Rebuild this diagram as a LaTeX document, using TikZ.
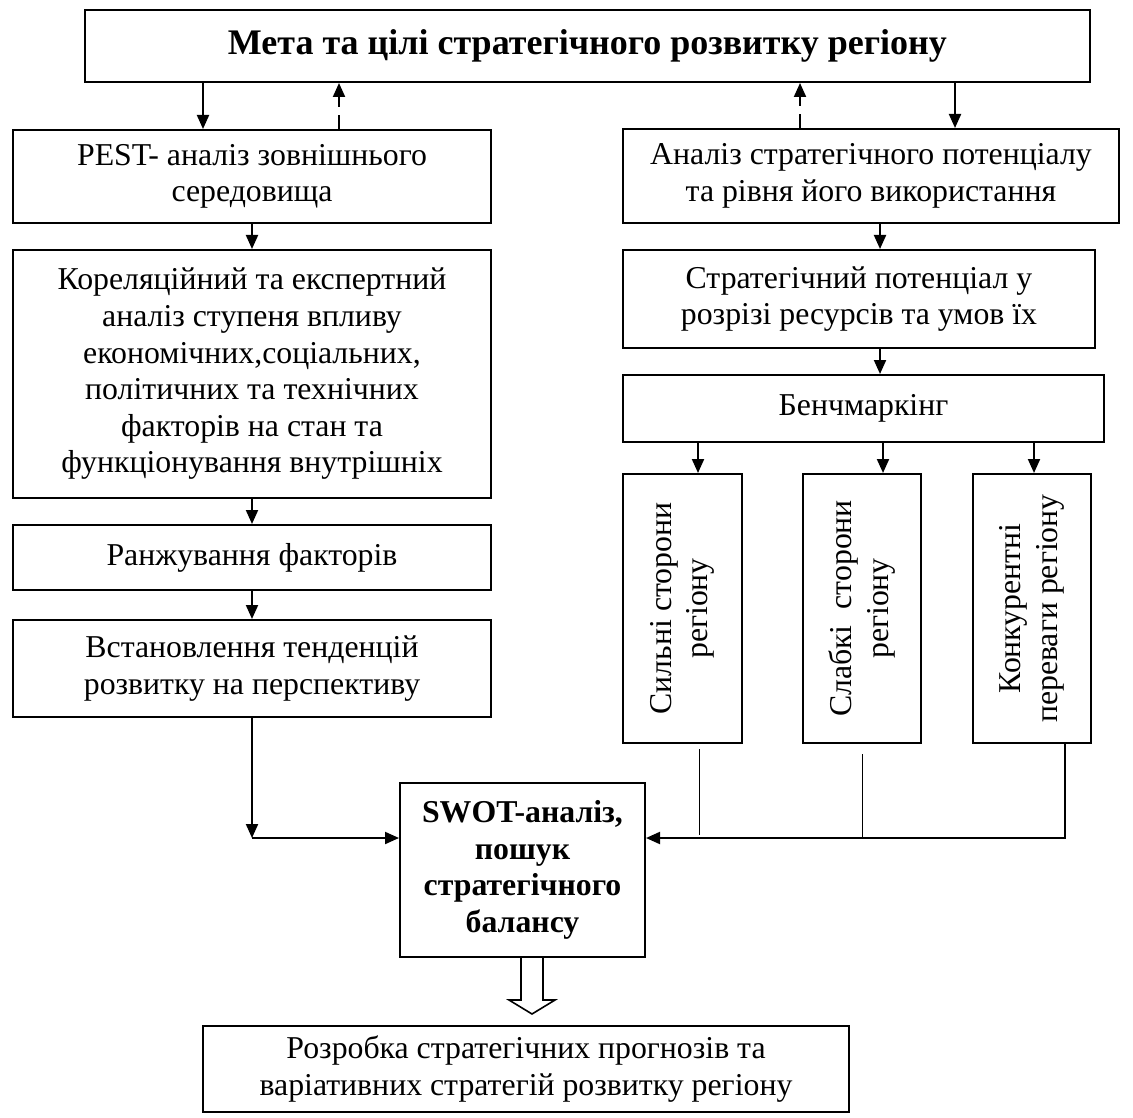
\documentclass[tikz,border=0pt]{standalone}
\usepackage{fontspec}
\setmainfont{Liberation Serif}
\usetikzlibrary{arrows.meta}
\newcommand\bodyfont{\fontsize{15.9}{18.3}\selectfont}

\begin{document}
\begin{tikzpicture}[x=0.5pt,y=-0.5pt,
  box/.style={draw,line width=1pt,align=center,inner sep=0pt,font=\bodyfont},
  arr/.style={line width=1pt,-{Triangle[length=7pt,width=6pt]}},
  darr/.style={arr,dash pattern=on 7pt off 4pt}]
  \useasboundingbox (0,0) rectangle (1133,1117);
  % goal
  \node[box,minimum width=502.5pt,minimum height=36pt,
        font=\fontsize{18}{21}\selectfont\bfseries] (goal) at (587.5,46)
    {Мета та цілі стратегічного розвитку регіону};
  % left column
  \node[box,minimum width=239pt,minimum height=46.5pt] (pest) at (252,176.5)
    {PEST- аналіз зовнішнього\\середовища};
  \node[box,minimum width=239pt,minimum height=124pt] (corr) at (252,374)
    {Кореляційний та експертний\\аналіз ступеня впливу\\економічних,соціальних,\\політичних та технічних\\факторів на стан та\\функціонування внутрішніх};
  \node[box,minimum width=239pt,minimum height=32.5pt] (rank) at (252,557.5)
    {Ранжування факторів};
  \node[box,minimum width=239pt,minimum height=48.5pt] (trend) at (252,668.5)
    {Встановлення тенденцій\\розвитку на перспективу};
  % right column
  \node[box,minimum width=248pt,minimum height=47pt] (anal) at (871,176)
    {Аналіз стратегічного потенціалу\\та рівня його використання};
  \node[box,minimum width=236pt,minimum height=49pt] (res) at (859,299)
    {Стратегічний потенціал у\\розрізі ресурсів та умов їх};
  \node[box,minimum width=240.5pt,minimum height=33.5pt] (bench) at (863.5,408.5)
    {Бенчмаркінг};
  \node[box,rotate=90,minimum width=134.5pt,minimum height=59.5pt] (strong) at (682.5,608.5)
    {Сильні сторони\\регіону};
  \node[box,rotate=90,minimum width=134.5pt,minimum height=59pt] (weak) at (862,608.5)
    {Слабкі\ \ сторони\\регіону};
  \node[box,rotate=90,minimum width=134.5pt,minimum height=59pt] (compet) at (1032,608.5)
    {Конкурентні\\переваги регіону};
  % swot and result
  \node[box,minimum width=122.5pt,minimum height=87pt,font=\bodyfont\bfseries] (swot) at (522.5,870)
    {SWOT-аналіз,\\пошук\\стратегічного\\балансу};
  \node[box,minimum width=323pt,minimum height=43pt] (out) at (526,1069)
    {Розробка стратегічних прогнозів та\\варіативних стратегій розвитку регіону};

  % links with the goal
  \coordinate (p1) at ([xshift=-24.5pt]pest.north);
  \coordinate (p2) at ([xshift=43.5pt]pest.north);
  \coordinate (a1) at ([xshift=-35.5pt]anal.north);
  \coordinate (a2) at ([xshift=42pt]anal.north);
  \draw[arr] (p1 |- goal.south) -- (p1);
  \draw[darr] (p2) -- (p2 |- goal.south);
  \draw[darr] (a1) -- (a1 |- goal.south);
  \draw[arr] (a2 |- goal.south) -- (a2);
  % left chain
  \draw[arr] (pest) -- (corr);
  \draw[arr] (corr) -- (rank);
  \draw[arr] (rank) -- (trend);
  % right chain
  \coordinate (r1) at ([xshift=4.5pt]anal.south);
  \draw[arr] (r1) -- (r1 |- res.north);
  \draw[arr] (r1 |- res.south) -- (r1 |- bench.north);
  \coordinate (b1) at ([xshift=-82.75pt]bench.south);
  \coordinate (b2) at ([xshift=9.75pt]bench.south);
  \coordinate (b3) at ([xshift=85.25pt]bench.south);
  \draw[arr] (b1) -- (b1 |- strong.east);
  \draw[arr] (b2) -- (b2 |- weak.east);
  \draw[arr] (b3) -- (b3 |- compet.east);
  % into swot
  \coordinate (win) at ([yshift=16pt]swot.west);
  \coordinate (sin) at ([yshift=16pt]swot.east);
  \draw[arr] (trend.south) -- (trend.south |- win);
  \draw[arr] (trend.south |- win) -- (win);
  \coordinate (c1) at ([xshift=8.25pt,yshift=-2.5pt]strong.west);
  \coordinate (c2) at ([yshift=-5pt]weak.west);
  \coordinate (c3) at ([xshift=16.5pt]compet.west);
  \draw (c1) -- ([yshift=1.5pt]c1 |- sin);
  \draw (c2) -- (c2 |- sin);
  \draw[arr] (c3) -- (c3 |- sin) -- (sin);
  % hollow arrow
  \coordinate (hs) at ([xshift=4.75pt]swot.south);
  \draw[line width=0.8pt] (hs) ++(-11,0) -- ++(0,42) -- ++(-12,0) -- ++(23,14)
    -- ++(23,-14) -- ++(-12,0) -- ++(0,-42);
\end{tikzpicture}
\end{document}
